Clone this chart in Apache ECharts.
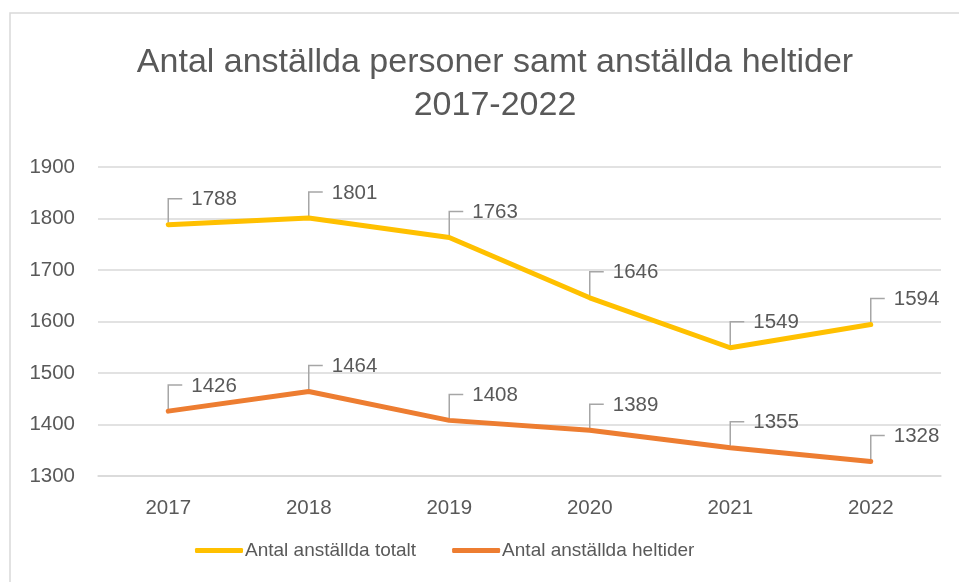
<!DOCTYPE html>
<html>
<head>
<meta charset="utf-8">
<script src="https://cdn.jsdelivr.net/npm/echarts@6/dist/echarts.min.js"></script>
<style>
    html, body { margin: 0; padding: 0; background: #fff; }
    #chart { width: 959px; height: 582px; }
</style>
</head>
<body>
<div id="chart"></div>
<script>
    // data
    var years = ['2017', '2018', '2019', '2020', '2021', '2022'];
    var totalt = [1788, 1801, 1763, 1646, 1549, 1594];
    var heltider = [1426, 1464, 1408, 1389, 1355, 1328];
    var yTicks = [1300, 1400, 1500, 1600, 1700, 1800, 1900];

    var textColor = '#595959';
    var font = '"Liberation Sans", Arial, sans-serif';

    // leader line + value label, placed via the axes
    function labelItem(params, api) {
        var p = api.coord([api.value(0), api.value(1)]);
        var x = p[0], y = p[1];
        return {
            type: 'group',
            children: [{
                type: 'polyline',
                shape: { points: [[x, y - 2], [x, y - 26], [x + 14, y - 26]] },
                style: { stroke: '#A6A6A6', lineWidth: 1.5, fill: null }
            }, {
                type: 'text',
                style: {
                    x: x + 23, y: y - 25,
                    text: String(api.value(1)),
                    fill: textColor,
                    font: '20.5px ' + font,
                    verticalAlign: 'middle'
                }
            }]
        };
    }

    function pairs(arr) {
        return arr.map(function (v, i) { return [i, v]; });
    }

    var chart = echarts.init(document.getElementById('chart'));
    chart.setOption({
        animation: false,
        title: {
            text: 'Antal anställda personer samt anställda heltider\n2017-2022',
            left: 490,
            textAlign: 'center',
            top: 36,
            textStyle: {
                color: textColor,
                fontFamily: font,
                fontWeight: 'normal',
                fontSize: 34,
                lineHeight: 43
            }
        },
        graphic: [{
            type: 'rect',
            shape: { x: 10, y: 13, width: 980, height: 600 },
            style: { fill: null, stroke: '#D9D9D9', lineWidth: 1.5 },
            silent: true
        }],
        legend: {
            bottom: 17,
            left: 190,
            itemWidth: 48,
            itemHeight: 5,
            itemGap: 36,
            data: ['Antal anställda totalt', 'Antal anställda heltider'],
            textStyle: { color: textColor, fontSize: 19, fontFamily: font, padding: [0, 0, 0, -3] },
            icon: 'roundRect'
        },
        grid: { left: 98, right: 18, top: 167, bottom: 106 },
        xAxis: {
            type: 'category',
            data: years,
            boundaryGap: true,
            axisLine: { lineStyle: { color: '#D9D9D9', width: 1.5 } },
            axisTick: { show: false },
            axisLabel: { color: textColor, fontSize: 20.5, fontFamily: font, margin: 22 }
        },
        yAxis: {
            type: 'value',
            min: yTicks[0],
            max: yTicks[yTicks.length - 1],
            interval: 100,
            axisLine: { show: false },
            axisTick: { show: false },
            axisLabel: {
                color: textColor, fontSize: 20.5, fontFamily: font, margin: 23,
                formatter: function (v) { return String(v); }
            },
            splitLine: { lineStyle: { color: '#D9D9D9', width: 1.5 } }
        },
        series: [{
            type: 'custom',
            renderItem: labelItem,
            data: pairs(totalt),
            z: 1,
            silent: true
        }, {
            type: 'custom',
            renderItem: labelItem,
            data: pairs(heltider),
            z: 1,
            silent: true
        }, {
            name: 'Antal anställda totalt',
            type: 'line',
            data: totalt,
            showSymbol: false,
            symbol: 'none',
            z: 3,
            color: '#FFC000',
            lineStyle: { width: 5, cap: 'round', join: 'round' }
        }, {
            name: 'Antal anställda heltider',
            type: 'line',
            data: heltider,
            showSymbol: false,
            symbol: 'none',
            z: 3,
            color: '#ED7D31',
            lineStyle: { width: 5, cap: 'round', join: 'round' }
        }]
    });
</script>
</body>
</html>
